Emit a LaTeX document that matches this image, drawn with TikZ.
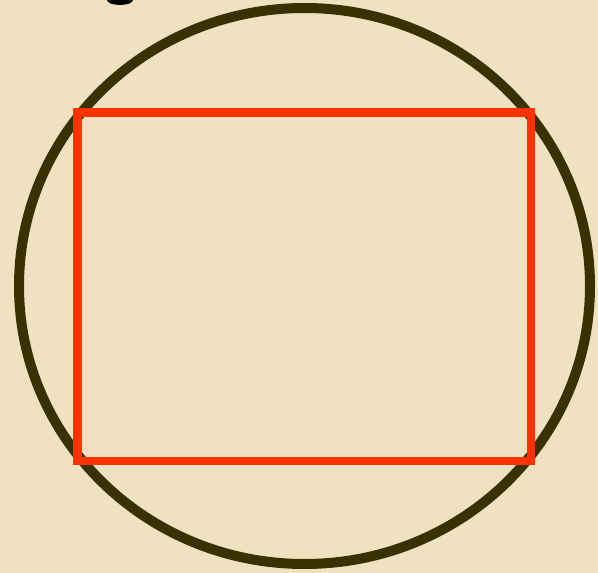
\documentclass[tikz,border=0pt]{standalone}
\definecolor{parch}{RGB}{240,226,192}
\definecolor{olive}{RGB}{56,50,0}
\definecolor{redline}{RGB}{255,51,0}
\begin{document}
\begin{tikzpicture}[x=1pt,y=-1pt]
\fill[parch] (0,0) rectangle (598,573);
\useasboundingbox (0,0) rectangle (598,573);
\fill[black] (107,0) arc[start angle=180,end angle=0,x radius=13,y radius=5] -- cycle;
\draw[olive,line width=10pt] (304.5,286) ellipse[x radius=285.5,y radius=278];
\draw[redline,line width=8.5pt] (77.5,112.5) rectangle (531,461);
\end{tikzpicture}
\end{document}
